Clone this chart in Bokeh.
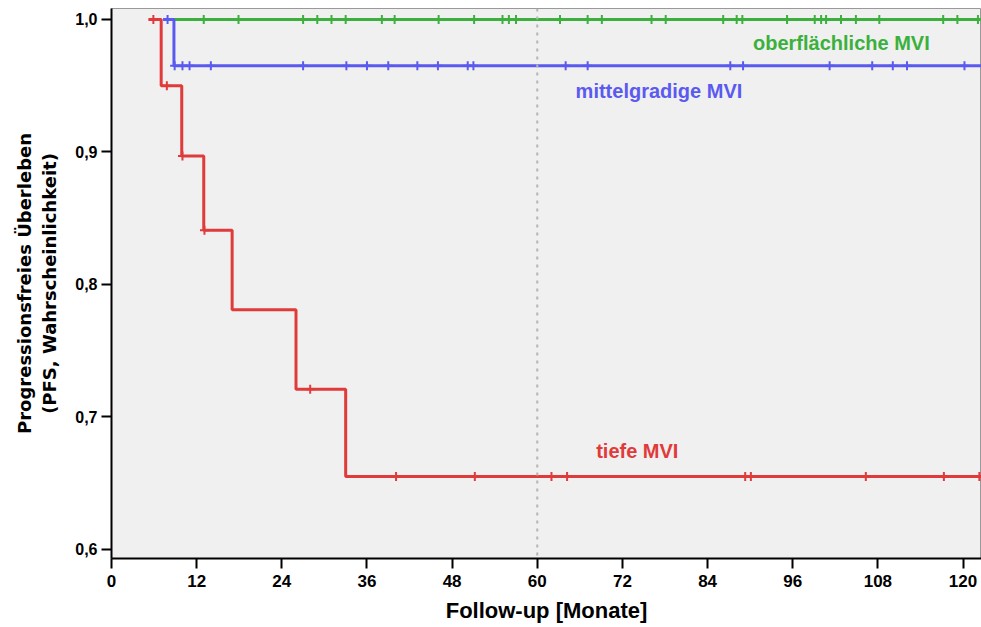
from bokeh.plotting import figure
from bokeh.models import Range1d, Span, Label, FixedTicker
from bokeh.embed import file_html
from bokeh.resources import INLINE

# ---- data (months, survival probability) ----
x_ticks = [0, 12, 24, 36, 48, 60, 72, 84, 96, 108, 120]
x_tick_labels = ["0", "12", "24", "36", "48", "60", "72", "84", "96", "108", "120"]
y_ticks = [0.6, 0.7, 0.8, 0.9, 1.0]
y_tick_labels = ["0,6", "0,7", "0,8", "0,9", "1,0"]
y_title_lines = ["Progressionsfreies Überleben", "(PFS, Wahrscheinlichkeit)"]

# tiefe MVI
tief_start = 5.2
tief_end = 123.0
tief_event_t = [7.0, 9.9, 13.0, 17.0, 26.0, 33.0]
tief_event_s = [0.95, 0.897, 0.841, 0.781, 0.721, 0.655]
tief_censor_t = [5.9, 7.8, 10.0, 13.1, 28.0, 40.1, 51.2, 62.0, 64.2,
                 89.3, 90.1, 106.3, 117.3, 122.3]

# mittelgradige MVI
mittel_start = 7.3
mittel_end = 123.0
mittel_event_t = [8.8]
mittel_event_s = [0.965]
mittel_censor_t = [7.9, 8.9, 10.0, 11.0, 14.0, 27.0, 33.1, 36.0, 39.0, 43.1,
                   46.0, 50.2, 51.0, 64.0, 67.1, 87.2, 89.0, 101.2, 107.2,
                   110.1, 112.1, 120.2]

# oberflaechliche MVI
ober_start = 7.3
ober_end = 123.0
ober_event_t = []
ober_event_s = []
ober_censor_t = [13.0, 17.9, 27.0, 29.0, 31.0, 33.0, 38.1, 39.9, 46.1, 51.1,
                 55.1, 56.0, 57.0, 63.2, 67.1, 69.1, 76.1, 78.1, 86.2, 88.1,
                 88.9, 95.2, 99.1, 100.0, 100.7, 102.8, 104.9, 108.2, 117.2,
                 119.2, 122.1]


def km_path(start, end, ev_t, ev_s):
    xs, ys = [start], [1.0]
    s = 1.0
    for t, v in zip(ev_t, ev_s):
        xs += [t, t]
        ys += [s, v]
        s = v
    xs.append(end)
    ys.append(s)
    return xs, ys


def surv_at(t, ev_t, ev_s):
    s = 1.0
    for et, v in zip(ev_t, ev_s):
        if et <= t:
            s = v
    return s


GREEN = "#3cb03c"
BLUE = "#5a5af0"
RED = "#e03a3a"

p = figure(width=981, height=627, output_backend="svg", toolbar_location=None,
           x_range=Range1d(0, 122.6), y_range=Range1d(0.5932, 1.0083),
           min_border_left=111, min_border_right=0, min_border_top=8,
           min_border_bottom=69)
p.background_fill_color = "#f0f0f0"
p.border_fill_color = "white"
p.outline_line_color = "#999999"
p.outline_line_width = 1
p.xgrid.visible = False
p.ygrid.visible = False

p.add_layout(Span(location=60, dimension="height", line_color="#b4b4b4",
                  line_dash="3 5", line_width=2))

for start, end, ev_t, ev_s, cens, col in [
    (ober_start, ober_end, ober_event_t, ober_event_s, ober_censor_t, GREEN),
    (mittel_start, mittel_end, mittel_event_t, mittel_event_s, mittel_censor_t, BLUE),
    (tief_start, tief_end, tief_event_t, tief_event_s, tief_censor_t, RED),
]:
    xs, ys = km_path(start, end, ev_t, ev_s)
    p.line(xs, ys, line_color=col, line_width=3)
    cy = [surv_at(t, ev_t, ev_s) for t in cens]
    p.scatter(cens, cy, marker="cross", size=9, line_color=col, line_width=2)

# labels
lab_font = "Liberation Sans"
p.add_layout(Label(x=90.4, y=0.9826, text="oberflächliche MVI", text_color=GREEN,
                   text_font=lab_font, text_font_style="bold", text_font_size="20px",
                   text_baseline="middle"))
p.add_layout(Label(x=65.4, y=0.9464, text="mittelgradige MVI", text_color=BLUE,
                   text_font=lab_font, text_font_style="bold", text_font_size="20px",
                   text_baseline="middle"))
p.add_layout(Label(x=68.3, y=0.6747, text="tiefe MVI", text_color=RED,
                   text_font=lab_font, text_font_style="bold", text_font_size="20px",
                   text_baseline="middle"))

# axes
p.xaxis.ticker = FixedTicker(ticks=x_ticks)
p.xaxis.major_label_overrides = {t: l for t, l in zip(x_ticks, x_tick_labels)}
p.yaxis.ticker = FixedTicker(ticks=y_ticks)
p.yaxis.major_label_overrides = {t: l for t, l in zip(y_ticks, y_tick_labels)}
for ax in (p.xaxis, p.yaxis):
    ax.axis_line_color = "black"
    ax.axis_line_width = 2
    ax.major_tick_line_color = "black"
    ax.major_tick_line_width = 2
    ax.major_tick_out = 10
    ax.major_tick_in = 0
    ax.minor_tick_line_color = None
    ax.major_label_text_font = "Liberation Sans"
    ax.major_label_text_font_style = "bold"
    ax.major_label_text_color = "black"
    ax.axis_label_text_color = "black"
    ax.axis_label_text_font_style = "bold"

p.xaxis.major_label_text_font_size = "17px"
p.xaxis.major_label_standoff = 6
p.xaxis.axis_label = "Follow-up [Monate]"
p.xaxis.axis_label_text_font = "Liberation Sans"
p.xaxis.axis_label_text_font_size = "22px"
p.xaxis.axis_label_standoff = 8

p.yaxis.major_label_text_font_size = "16px"
p.yaxis.major_label_standoff = 4
p.yaxis.axis_label = "\n".join(y_title_lines)
p.yaxis.axis_label_text_font = "DejaVu Sans"
p.yaxis.axis_label_text_font_size = "18px"
p.yaxis.axis_label_standoff = 12

open("out.html", "w").write(file_html(p, INLINE))
